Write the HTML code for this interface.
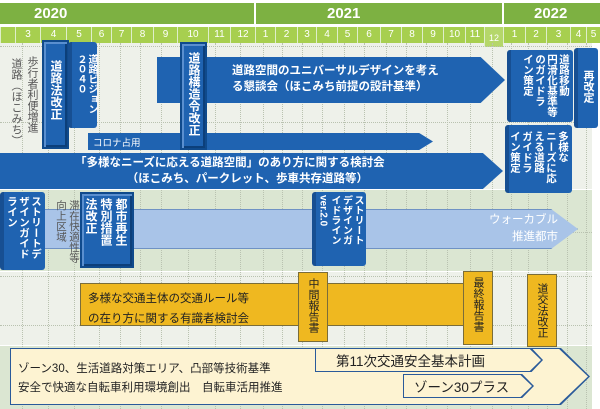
<!DOCTYPE html>
<html><head><meta charset="utf-8">
<style>
*{margin:0;padding:0;box-sizing:border-box}
body{width:600px;height:409px;overflow:hidden;background:#fff;font-family:"Liberation Sans","Noto Sans CJK JP",sans-serif;position:relative}
.a{position:absolute}
.v{writing-mode:vertical-rl;text-orientation:upright;white-space:nowrap}
.r{text-orientation:mixed}
.yr{background:#7db142;color:#fff;font-weight:bold;font-size:15px;line-height:21px;top:3px;height:21px}
.m{background:#a7cf4f;color:#fff;font-size:10px;text-align:center;line-height:16px;top:27px;height:16px;border-left:1px solid #dfeecb}
.dv{border-left:1px dotted #b9c2b0;top:43px;height:366px;width:0}
.dh{border-top:1px dotted #b9c2b0;left:0;width:592px;height:0}
.box{background:#1f63b1;color:#fff;border:2px solid #0f4a8c;box-shadow:inset 2px 2px 0 #5a8fcf,inset -2px -2px 0 #0c3f7a}
.scr{background:#1f63b1;color:#fff;border-left:4px solid #174f92;border-radius:3px}
.or{background:#efb820;border:1px solid #7a6d3a;color:#222}
</style></head><body>
<div class="a" style="left:0;top:43px;width:592px;height:147px;background:#eef1ea"></div>
<div class="a" style="left:0;top:190px;width:592px;height:82px;background:#dbe6d2"></div>
<div class="a" style="left:0;top:272px;width:592px;height:74px;background:#eef1ea"></div>
<div class="a" style="left:0;top:346px;width:592px;height:63px;background:#dbe6d2"></div>
<div class="a yr" style="left:0;width:254px;padding-left:34px">2020</div>
<div class="a yr" style="left:256px;width:246px;padding-left:71px">2021</div>
<div class="a yr" style="left:504px;width:96px;padding-left:30px">2022</div>
<div class="a m" style="left:0;width:15px"></div>
<div class="a m" style="left:15px;width:25px">3</div>
<div class="a m" style="left:40px;width:26px">4</div>
<div class="a m" style="left:66px;width:25px">5</div>
<div class="a m" style="left:91px;width:20px">6</div>
<div class="a m" style="left:111px;width:20px">7</div>
<div class="a m" style="left:131px;width:22px">8</div>
<div class="a m" style="left:153px;width:24px">9</div>
<div class="a m" style="left:177px;width:31px">10</div>
<div class="a m" style="left:208px;width:22px">11</div>
<div class="a m" style="left:230px;width:25px">12</div>
<div class="a m" style="left:255px;width:20px">1</div>
<div class="a m" style="left:275px;width:22px">2</div>
<div class="a m" style="left:297px;width:19px">3</div>
<div class="a m" style="left:316px;width:21px">4</div>
<div class="a m" style="left:337px;width:20px">5</div>
<div class="a m" style="left:357px;width:23px">6</div>
<div class="a m" style="left:380px;width:21px">7</div>
<div class="a m" style="left:401px;width:21px">8</div>
<div class="a m" style="left:422px;width:21px">9</div>
<div class="a m" style="left:443px;width:22px">10</div>
<div class="a m" style="left:465px;width:19px">11</div>
<div class="a m" style="left:484px;width:19px;background:#b5d76a;height:20px;line-height:22px;font-size:9px">12</div>
<div class="a m" style="left:503px;width:22px">1</div>
<div class="a m" style="left:525px;width:21px">2</div>
<div class="a m" style="left:546px;width:24px">3</div>
<div class="a m" style="left:570px;width:16px">4</div>
<div class="a m" style="left:586px;width:14px">5</div>
<div class="a dv" style="left:22px"></div><div class="a dv" style="left:48px"></div><div class="a dv" style="left:74px"></div><div class="a dv" style="left:99px"></div><div class="a dv" style="left:120px"></div><div class="a dv" style="left:140px"></div><div class="a dv" style="left:161px"></div><div class="a dv" style="left:188px"></div><div class="a dv" style="left:215px"></div><div class="a dv" style="left:240px"></div><div class="a dv" style="left:263px"></div><div class="a dv" style="left:282px"></div><div class="a dv" style="left:302px"></div><div class="a dv" style="left:322px"></div><div class="a dv" style="left:344px"></div><div class="a dv" style="left:364px"></div><div class="a dv" style="left:386px"></div><div class="a dv" style="left:406px"></div><div class="a dv" style="left:426px"></div><div class="a dv" style="left:447px"></div><div class="a dv" style="left:470px"></div><div class="a dv" style="left:492px"></div><div class="a dv" style="left:511px"></div><div class="a dv" style="left:528px"></div><div class="a dv" style="left:547px"></div><div class="a dv" style="left:567px"></div><div class="a dv" style="left:586px"></div>
<div class="a dh" style="top:46px"></div><div class="a dh" style="top:122px"></div><div class="a dh" style="top:232px"></div><div class="a dh" style="top:276px"></div><div class="a dh" style="top:325px"></div>
<div class="a" style="left:0;top:189px;width:592px;border-top:1px solid #fff"></div>
<div class="a" style="left:0;top:271px;width:592px;border-top:1px solid #fff"></div>
<div class="a" style="left:0;top:345px;width:592px;border-top:1px solid #fff"></div>

<div class="a v" style="left:10px;top:58px;font-size:11px;color:#555;line-height:12px">道路（ほこみち）</div>
<div class="a v" style="left:26px;top:56px;font-size:11px;color:#555;line-height:12px">歩行者利便増進</div>

<div class="a" style="left:157px;top:57px;width:348px;height:46px;background:#1f63b1;clip-path:polygon(0 0,93% 0,100% 50%,93% 100%,0 100%)"></div>
<div class="a" style="left:232px;top:63px;color:#fff;font-size:11.5px;line-height:16px;font-weight:bold">道路空間のユニバーサルデザインを考え<br>る懇談会（ほこみち前提の設計基準）</div>

<div class="a" style="left:88px;top:133px;width:345px;height:17px;background:#1f63b1;clip-path:polygon(0 0,96% 0,100% 50%,96% 100%,0 100%)"></div>
<div class="a" style="left:93px;top:135px;color:#fff;font-size:9.5px">コロナ占用</div>

<div class="a" style="left:0;top:153px;width:503px;height:36px;background:#1f63b1;clip-path:polygon(0 0,96% 0,100% 50%,96% 100%,0 100%)"></div>
<div class="a" style="left:75px;top:155px;color:#fff;font-size:11.5px;line-height:16px;font-weight:bold">「多様なニーズに応える道路空間」のあり方に関する検討会<br>　　　　　（ほこみち、パークレット、歩車共存道路等）</div>

<div class="a box v" style="left:42px;top:40px;width:27px;height:109px;font-size:12px;font-weight:bold;padding-top:18px;line-height:23px">道路法改正</div>
<div class="a scr v" style="left:68px;top:42px;width:29px;height:86px;font-size:10px;font-weight:bold;line-height:11px;padding:12px 0 0 0">道路ビジョン<br>２０４０</div>
<div class="a box v" style="left:180px;top:42px;width:27px;height:108px;font-size:12px;font-weight:bold;padding-top:8px;line-height:23px">道路構造令改正</div>

<div class="a scr v" style="left:507px;top:50px;width:66px;height:72px;font-size:10.5px;font-weight:bold;line-height:12px;padding:4px 3px 0 0">道路移動<br>円滑化基準等<br>のガイドラ<br>イン策定</div>
<div class="a scr v" style="left:574px;top:48px;width:24px;height:80px;font-size:11px;font-weight:bold;line-height:20px;padding-top:22px">再改定</div>
<div class="a scr v" style="left:505px;top:125px;width:67px;height:68px;font-size:10.5px;font-weight:bold;line-height:12px;padding:6px 3px 0 0">多様な<br>ニーズに応<br>える道路<br>ガイドラ<br>イン策定</div>

<div class="a" style="left:40px;top:209px;width:538px;height:40px;background:#a9c4e8;border:1px solid #6f92c4;clip-path:polygon(0 0,95% 0,100% 50%,95% 100%,0 100%)"></div>
<div class="a" style="left:482px;top:212px;color:#fff;font-size:11.5px;line-height:17px;text-align:right;width:76px;white-space:nowrap">ウォーカブル<br>推進都市</div>
<div class="a scr v" style="left:0;top:192px;width:45px;height:78px;font-size:10.5px;font-weight:bold;line-height:12px;padding:4px 3px 0 0">ストリートデ<br>ザインガイド<br>ライン</div>
<div class="a v" style="left:54px;top:200px;font-size:10.5px;color:#555;line-height:13px">滞在快適性等<br>向上区域</div>
<div class="a box v" style="left:80px;top:192px;width:54px;height:76px;font-size:12px;font-weight:bold;line-height:15px;padding:4px 4px 0 0">都市再生<br>特別措置<br>法改正</div>
<div class="a scr v" style="left:312px;top:192px;width:54px;height:74px;font-size:10px;font-weight:bold;line-height:11.5px;padding:3px 3px 0 0">ストリート<br>デザインガ<br>イドライン<br><span class="r">ver.2.0</span></div>

<div class="a or" style="left:80px;top:283px;width:386px;height:43px"></div>
<div class="a" style="left:88px;top:289px;font-size:11.5px;line-height:20px;color:#222">多様な交通主体の交通ルール等<br>の在り方に関する有識者検討会</div>
<div class="a or v" style="left:298px;top:272px;width:30px;height:70px;font-size:11px;line-height:28px;padding-top:5px">中間報告書</div>
<div class="a or v" style="left:463px;top:271px;width:30px;height:74px;font-size:11px;line-height:28px;padding-top:5px">最終報告書</div>
<div class="a or v" style="left:527px;top:274px;width:30px;height:73px;font-size:11px;line-height:28px;padding-top:8px">道交法改正</div>

<div class="a" style="left:10px;top:348px;width:580px;height:57px;background:#2a5a9a;clip-path:polygon(0 0,95% 0,100% 50%,95% 100%,0 100%)"></div>
<div class="a" style="left:11px;top:349px;width:577px;height:55px;background:#fdf3d2;clip-path:polygon(0 0,95% 0,100% 50%,95% 100%,0 100%)"></div>
<div class="a" style="left:18px;top:360px;font-size:11.5px;line-height:19px;color:#222">ゾーン30、生活道路対策エリア、凸部等技術基準<br>安全で快適な自転車利用環境創出　自転車活用推進</div>
<div class="a" style="left:315px;top:348px;width:228px;height:24px;background:#2a5a9a;clip-path:polygon(0 0,95% 0,100% 50%,95% 100%,0 100%)"></div>
<div class="a" style="left:316px;top:349px;width:225px;height:22px;background:#fdf3d2;clip-path:polygon(0 0,95% 0,100% 50%,95% 100%,0 100%)"></div>
<div class="a" style="left:336px;top:350px;font-size:13.5px;color:#222">第11次交通安全基本計画</div>
<div class="a" style="left:403px;top:374px;width:131px;height:24px;background:#2a5a9a;clip-path:polygon(0 0,91% 0,100% 50%,91% 100%,0 100%)"></div>
<div class="a" style="left:404px;top:375px;width:128px;height:22px;background:#fdf3d2;clip-path:polygon(0 0,91% 0,100% 50%,91% 100%,0 100%)"></div>
<div class="a" style="left:414px;top:376px;font-size:13.5px;color:#222">ゾーン30プラス</div>
</body></html>
